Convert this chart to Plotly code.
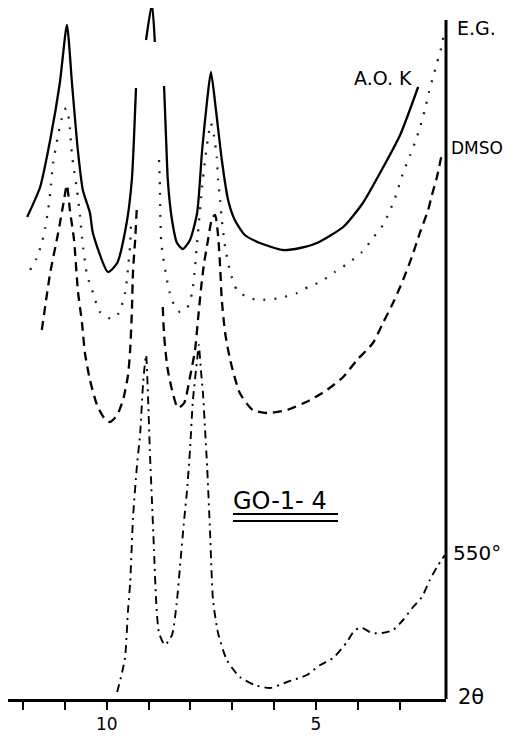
import plotly.graph_objects as go

# ---- data (2θ in degrees, intensity in arbitrary units above baseline) ----
# A.O.K (solid)
aok_2theta = [11.90, 11.59, 11.35, 11.12, 10.95, 10.83, 10.69, 10.57, 10.40, 10.33, 9.97, 9.75,
              9.52, 9.40, 9.35, 9.30,
              None,
              9.06, 8.92, 8.85,
              None,
              8.63, 8.58, 8.54, 8.44, 8.32, 8.18, 8.01, 7.84, 7.72, 7.60, 7.51, 7.39, 7.25,
              7.10, 6.94, 6.70, 6.34, 5.79, 5.38, 4.98, 4.35, 3.88, 3.47, 2.99, 2.56]
aok_int = [482, 512, 559, 616, 674, 616, 549, 509, 486, 466, 427, 436,
           477, 519, 559, 611,
           None,
           659, 695, 657,
           None,
           613, 559, 519, 479, 456, 450, 459, 486, 549, 599, 627, 589, 539,
           499, 479, 464, 456, 449, 451, 456, 472, 496, 526, 564, 612]

# E.G. (dotted)
eg_2theta = [11.83, 11.67, 11.55, 11.47, 11.40, 11.35, 11.28, 11.16, 11.07, 10.97, 10.90, 10.83,
             10.71, 10.64, 10.57, 10.47, 10.35, 10.16, 9.87, 9.71, 9.56, 9.49, 9.44, 9.42,
             None,
             8.75, 8.73, 8.72, 8.70, 8.66, 8.56, 8.49, 8.39, 8.25, 8.08, 7.96, 7.89, 7.82,
             7.72, 7.65, 7.58, 7.51, 7.44, 7.37, 7.34, 7.29, 7.25, 7.17, 7.05, 6.89, 6.65,
             6.39, 5.86, 5.45, 5.19, 4.90, 4.55, 4.19, 3.90, 3.64, 3.40, 3.26, 3.11, 2.92,
             2.75, 2.63, 2.52, 2.40, 2.30, 2.21, 2.11, 2.01, 1.94]
eg_int = [429, 441, 456, 471, 489, 506, 536, 564, 581, 591, 579, 544,
          509, 484, 454, 424, 409, 387, 380, 386, 406, 431, 454, 474,
          None,
          539, 514, 486, 459, 444, 419, 406, 394, 387, 391, 406, 432, 466,
          512, 539, 561, 576, 564, 542, 519, 499, 479, 452, 427, 409, 402,
          399, 401, 406, 412, 417, 427, 437, 447, 461, 474, 486, 501, 526,
          544, 557, 571, 589, 607, 621, 636, 651, 666]

# DMSO (dashed)
dmso_2theta = [11.55, 11.35, 11.16, 11.04, 10.95, 10.88, 10.78, 10.69, 10.59, 10.52, 10.40,
               10.23, 10.06, 9.92, 9.75, 9.61, 9.49, 9.44, 9.40, 9.37, 9.32, 9.28,
               None,
               8.66, 8.63, 8.58, 8.54, 8.44, 8.30, 8.15, 8.01, 7.89, 7.82, 7.75, 7.68, 7.58,
               7.48, 7.41, 7.34, 7.29, 7.25, 7.17, 7.05, 6.82, 6.51, 6.17, 5.69, 5.14, 4.74,
               4.35, 4.02, 3.64, 3.40, 3.16, 2.92, 2.71, 2.52, 2.32, 2.23, 2.11, 1.99]
dmso_int = [369, 426, 466, 494, 514, 489, 459, 409, 376, 346, 319,
            294, 281, 277, 284, 299, 324, 349, 386, 429, 459, 492,
            None,
            392, 364, 342, 329, 309, 291, 296, 322, 349, 379, 409, 434, 459,
            481, 484, 464, 432, 399, 366, 339, 306, 289, 286, 289, 299, 309,
            322, 339, 356, 376, 396, 419, 442, 466, 489, 504, 522, 546]

# 550° (dash-dot)
t550_2theta = [9.75, 9.63, 9.56, 9.49, 9.44, 9.37, 9.28, 9.20, 9.13, 9.06, 9.01, 8.97, 8.92,
               8.87, 8.82, 8.75, 8.61, 8.44, 8.32, 8.25, 8.15, 8.08, 8.01, 7.94, 7.84, 7.80,
               7.75, 7.70, 7.65, 7.60, 7.53, 7.46, 7.34, 7.13, 6.82, 6.46, 6.10, 5.69, 5.22,
               4.90, 4.59, 4.26, 4.07, 3.90, 3.66, 3.42, 3.16, 2.92, 2.68, 2.47, 2.28, 2.11, 1.92]
t550_int = [7, 27, 42, 89, 116, 182, 232, 266, 316, 344, 299, 249, 199,
            149, 99, 66, 54, 64, 99, 132, 179, 209, 249, 299, 339, 354,
            329, 306, 269, 232, 166, 99, 66, 39, 22, 14, 11, 17, 24,
            34, 41, 57, 69, 71, 66, 66, 69, 79, 92, 102, 119, 132, 144]

tick_vals = [12, 11, 10, 9, 8, 7, 6, 5, 4, 3]
tick_text = ["", "", "10", "", "", "", "", "5", "", ""]

FONT = "DejaVu Sans"

fig = go.Figure()
fig.add_trace(go.Scatter(x=aok_2theta, y=aok_int, mode="lines", connectgaps=False,
                         line=dict(color="black", width=2.3, shape="spline", smoothing=0.6)))
fig.add_trace(go.Scatter(x=eg_2theta, y=eg_int, mode="lines", connectgaps=False,
                         line=dict(color="#222", width=2.3, dash="2px,9px",
                                   shape="spline", smoothing=0.6)))
fig.add_trace(go.Scatter(x=dmso_2theta, y=dmso_int, mode="lines", connectgaps=False,
                         line=dict(color="black", width=2.3, dash="9px,6px",
                                   shape="spline", smoothing=0.6)))
fig.add_trace(go.Scatter(x=t550_2theta, y=t550_int, mode="lines", connectgaps=False,
                         line=dict(color="black", width=1.9, dash="8px,5px,2px,5px",
                                   shape="spline", smoothing=0.6)))

# The page body has an 8px default margin, so the figure is sized and laid out
# to land at the intended screen position (screen = figure + 8).
OFF = 8
W, H = 513 - OFF, 736 - OFF
L, R, T, B = 0, 67, 0, 37
pw = W - L - R          # 438 -> screen x 8..446
ph = H - T - B          # 691 -> screen y 8..699

def px(x):               # screen x -> paper
    return (x - OFF - L) / pw

def py(y):               # screen y -> paper
    return (699 - y) / ph

fig.update_layout(
    width=W, height=H,
    margin=dict(l=L, r=R, t=T, b=B, pad=0),
    paper_bgcolor="white", plot_bgcolor="white",
    showlegend=False,
    font=dict(family=FONT, color="black"),
    xaxis=dict(range=[12.358, 1.894], showgrid=False, zeroline=False,
               showline=True, linecolor="black", linewidth=2.5,
               ticks="outside", ticklen=8, tickwidth=2, tickcolor="black",
               tickvals=tick_vals, ticktext=tick_text,
               tickfont=dict(size=17, family=FONT, color="black")),
    yaxis=dict(range=[0, 691], visible=False, showgrid=False, zeroline=False),
)

# right-hand vertical axis line
fig.add_shape(type="line", xref="paper", yref="paper", x0=1, x1=1, y0=0, y1=py(20),
              line=dict(color="black", width=3))

# double underline for sample name
for yy in (514, 521):
    fig.add_shape(type="line", xref="paper", yref="paper", x0=px(233), x1=px(338),
                  y0=py(yy), y1=py(yy), line=dict(color="black", width=2))

def label(text, x, y, size, anchor="left"):
    fig.add_annotation(text=text, xref="paper", yref="paper", x=px(x), y=py(y),
                       xanchor=anchor, yanchor="middle", showarrow=False,
                       font=dict(size=size, family=FONT, color="black"))

label("E.G.", 455, 28, 19)
label("A.O. K", 414, 78, 19, anchor="right")
label("DMSO", 449, 148, 17)
label("550°", 451, 553, 20)
label("2θ", 456, 697, 21)
label("GO-1- 4", 231, 501, 24)

fig.write_html("out.html")
